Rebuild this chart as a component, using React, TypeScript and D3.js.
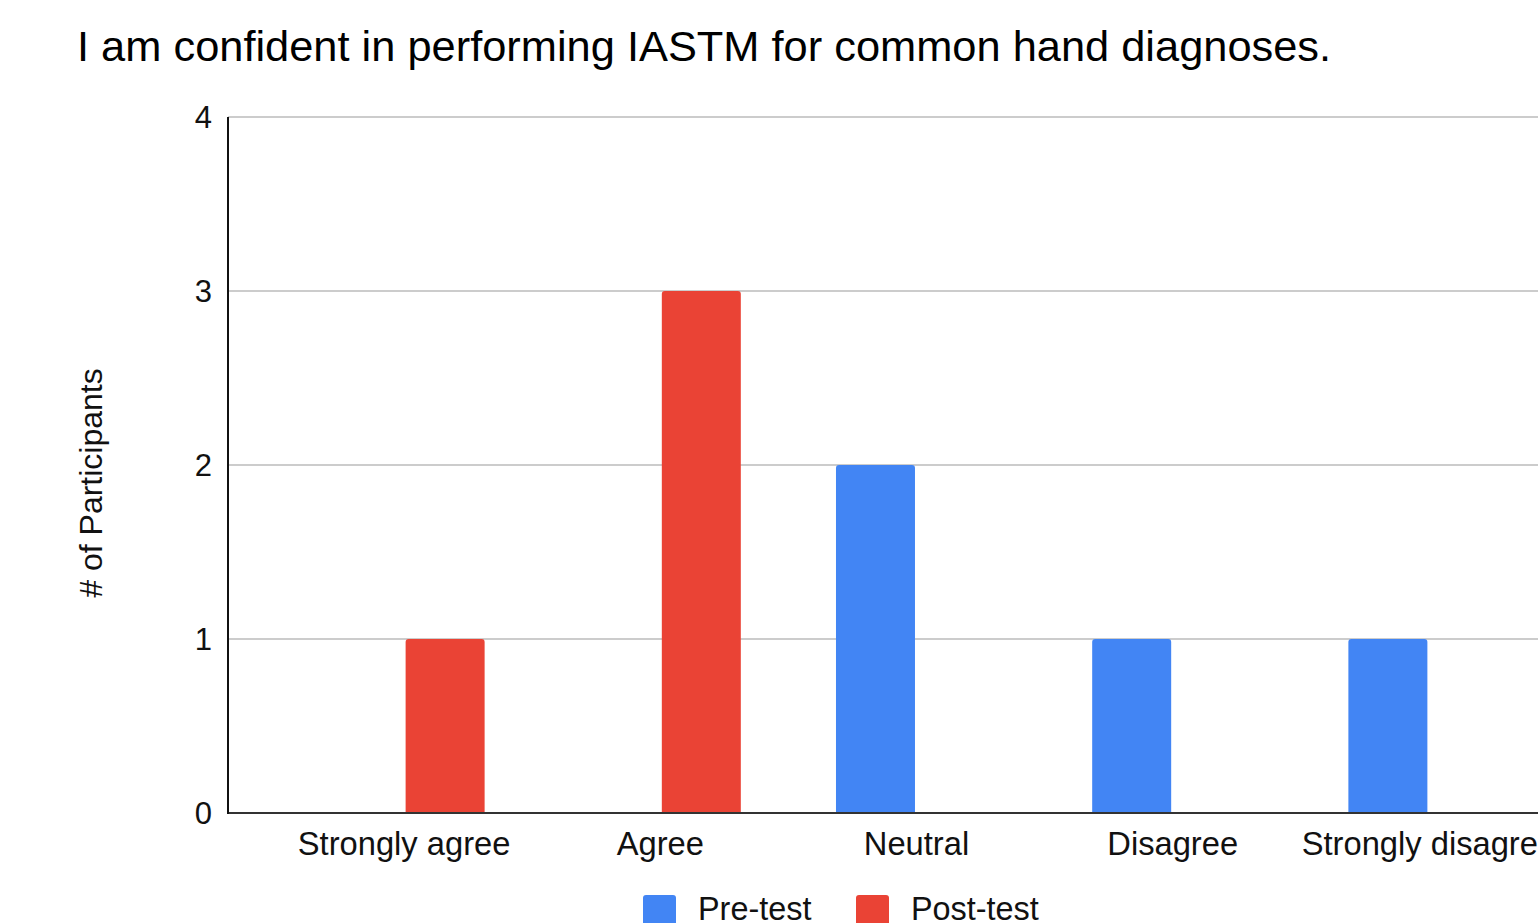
import React, { useRef, useEffect } from 'react';
import * as d3 from 'd3';

const categories = ['Strongly agree', 'Agree', 'Neutral', 'Disagree', 'Strongly disagree'];
const seriesNames = ['Pre-test', 'Post-test'];
const preTest = [0, 0, 2, 1, 1];
const postTest = [1, 3, 0, 0, 0];
const yTicks = [0, 1, 2, 3, 4];
const colors = ['#4285F4', '#EA4335'];

const title = 'I am confident in performing IASTM for common hand diagnoses.';
const yTitle = '# of Participants';

const App: React.FC = () => {
  const svgRef = useRef<SVGSVGElement>(null);

  useEffect(() => {
    if (!svgRef.current) return;
    const width = 1538;
    const height = 923;
    const font = 'Arial, "Liberation Sans", sans-serif';

    const svg = d3.select(svgRef.current);
    svg.selectAll('*').remove();
    svg.attr('width', width).attr('height', height);

    const axisLeft = 228;
    const x = d3.scaleBand<string>()
      .domain(categories)
      .range([276, 1557]);
    const inner = d3.scaleBand<string>()
      .domain(seriesNames)
      .range([0, x.bandwidth()])
      .paddingInner(0.037)
      .paddingOuter(0.58);
    const y = d3.scaleLinear().domain([0, 4]).range([813, 117]);

    // title
    svg.append('text')
      .attr('x', 77)
      .attr('y', 61)
      .attr('font-family', font)
      .attr('font-size', 43.4)
      .attr('fill', '#000')
      .text(title);

    // gridlines
    svg.append('g')
      .selectAll('line')
      .data(yTicks.filter(t => t > 0))
      .enter()
      .append('line')
      .attr('x1', axisLeft)
      .attr('x2', width)
      .attr('y1', d => y(d))
      .attr('y2', d => y(d))
      .attr('stroke', '#cccccc')
      .attr('stroke-width', 2);

    // y tick labels
    svg.append('g')
      .selectAll('text')
      .data(yTicks)
      .enter()
      .append('text')
      .attr('x', 212)
      .attr('y', d => y(d) + 11)
      .attr('text-anchor', 'end')
      .attr('font-family', font)
      .attr('font-size', 31)
      .attr('fill', '#111')
      .text(d => d);

    // bars
    const data = categories.map((c, i) => ({ cat: c, values: [preTest[i], postTest[i]] }));
    const groups = svg.append('g')
      .selectAll('g')
      .data(data)
      .enter()
      .append('g')
      .attr('transform', d => `translate(${x(d.cat)},0)`);

    groups.selectAll('path')
      .data(d => d.values.map((v, j) => ({ v, s: seriesNames[j], c: colors[j] })).filter(e => e.v > 0))
      .enter()
      .append('path')
      .attr('d', e => {
        const bx = inner(e.s)!;
        const bw = inner.bandwidth();
        const top = y(e.v);
        const bottom = y(0);
        const r = 3;
        return `M${bx},${bottom}V${top + r}Q${bx},${top} ${bx + r},${top}H${bx + bw - r}Q${bx + bw},${top} ${bx + bw},${top + r}V${bottom}Z`;
      })
      .attr('fill', e => e.c);

    // axes lines
    svg.append('line')
      .attr('x1', axisLeft).attr('x2', width)
      .attr('y1', y(0)).attr('y2', y(0))
      .attr('stroke', '#333').attr('stroke-width', 2);
    svg.append('line')
      .attr('x1', axisLeft).attr('x2', axisLeft)
      .attr('y1', y(4)).attr('y2', y(0) + 1)
      .attr('stroke', '#111').attr('stroke-width', 2);

    // x labels
    svg.append('g')
      .selectAll('text')
      .data(categories)
      .enter()
      .append('text')
      .attr('x', d => x(d)! + x.bandwidth() / 2)
      .attr('y', 855)
      .attr('text-anchor', 'middle')
      .attr('font-family', font)
      .attr('font-size', 32.7)
      .attr('fill', '#111')
      .text(d => d);

    // y title
    svg.append('text')
      .attr('transform', `translate(102,${483}) rotate(-90)`)
      .attr('text-anchor', 'middle')
      .attr('font-family', font)
      .attr('font-size', 32)
      .attr('fill', '#111')
      .text(yTitle);

    // legend
    const legendX = [643, 856];
    const legend = svg.append('g')
      .selectAll('g')
      .data(seriesNames)
      .enter()
      .append('g')
      .attr('transform', (_, i) => `translate(${legendX[i]},895)`);
    legend.append('rect')
      .attr('width', 33).attr('height', 33).attr('rx', 3)
      .attr('fill', (_, i) => colors[i]);
    legend.append('text')
      .attr('x', 55).attr('y', 25)
      .attr('font-family', font)
      .attr('font-size', 32.4)
      .attr('fill', '#111')
      .text(d => d);
  }, []);

  return <svg ref={svgRef} style={{ position: 'absolute', left: 0, top: 0, background: '#fff' }}></svg>;
};

export default App;
